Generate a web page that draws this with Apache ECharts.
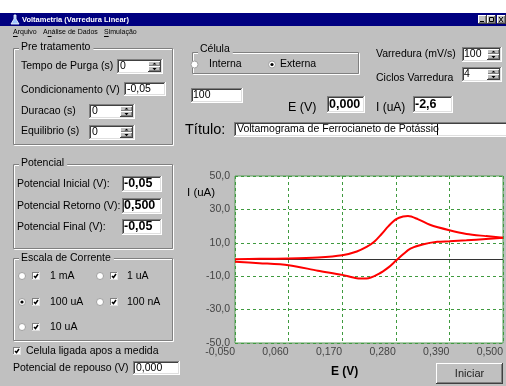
<!DOCTYPE html>
<html><head><meta charset="utf-8">
<script src="https://cdn.jsdelivr.net/npm/echarts@6/dist/echarts.min.js"></script>
<style>html,body{margin:0;padding:0;background:#c0c0c0;}#c{width:506px;height:386px;}</style>
</head><body><div id="c"></div>
<script>
// ---- data ----
const forwardE = [-0.05, 0.0, 0.06, 0.12, 0.17, 0.20, 0.22, 0.235, 0.25, 0.265, 0.28, 0.295, 0.305, 0.325, 0.35, 0.39, 0.425, 0.465, 0.50];
const forwardI = [0.2, 0.4, 0.6, 1.2, 2.5, 4.8, 7.5, 10.5, 15.0, 20.0, 24.0, 25.8, 26.0, 24.2, 20.8, 17.5, 15.3, 14.0, 13.0];
const reverseE = [0.50, 0.465, 0.425, 0.39, 0.365, 0.335, 0.31, 0.295, 0.28, 0.265, 0.245, 0.22, 0.20, 0.17, 0.12, 0.06, 0.0, -0.05];
const reverseI = [13.0, 12.3, 11.5, 10.9, 10.6, 9.0, 6.5, 3.1, -0.8, -4.7, -8.6, -11.4, -11.2, -9.2, -6.7, -3.4, -2.2, -1.4];
const xTicks = [-0.05, 0.06, 0.17, 0.28, 0.39, 0.50];
const yTicks = [-50, -30, -10, 10, 30, 50];

const FONT = '"Liberation Sans", Arial, sans-serif';
const mctx = document.createElement('canvas').getContext('2d');
function tw(s, fs, b) { mctx.font = (b?'bold ':'') + fs + 'px ' + FONT; return mctx.measureText(s).width; }
const G = [];
function T(x, y, s, o) {
  o = o || {};
  G.push({type:'text', z:o.z||10, style:{text:s, x:x, y:y,
    font:(o.b?'bold ':'') + (o.fs||10.5) + 'px ' + FONT,
    fill:o.c||'#000', textAlign:o.al||'left', align:o.al||'left',
    textVerticalAlign:'middle', verticalAlign:'middle'}});
}
function R(x, y, w, h, fill, stroke, z) {
  G.push({type:'rect', z:z||1, shape:{x:x, y:y, width:w, height:h},
    style:{fill:fill||'none', stroke:stroke||null, lineWidth:1}});
}
function L(x1, y1, x2, y2, c, z) {
  G.push({type:'line', z:z||2, shape:{x1:x1, y1:y1, x2:x2, y2:y2}, style:{stroke:c, lineWidth:1}});
}
function sunken(x, y, w, h) {
  R(x, y, w, h, '#fff');
  L(x, y+0.5, x+w, y+0.5, '#808080'); L(x+0.5, y, x+0.5, y+h, '#808080');
  L(x+1, y+1.5, x+w-1, y+1.5, '#404040'); L(x+1.5, y+1, x+1.5, y+h-1, '#404040');
  L(x, y+h-0.5, x+w, y+h-0.5, '#ffffff'); L(x+w-0.5, y, x+w-0.5, y+h, '#ffffff');
  L(x+1, y+h-1.5, x+w-1, y+h-1.5, '#dfdfdf'); L(x+w-1.5, y+1, x+w-1.5, y+h-1, '#dfdfdf');
}
function raised(x, y, w, h, z) {
  R(x, y, w, h, '#c0c0c0', null, z||3);
  L(x, y+0.5, x+w, y+0.5, '#ffffff', (z||3)+1); L(x+0.5, y, x+0.5, y+h, '#ffffff', (z||3)+1);
  L(x, y+h-0.5, x+w, y+h-0.5, '#404040', (z||3)+1); L(x+w-0.5, y, x+w-0.5, y+h, '#404040', (z||3)+1);
  L(x+1, y+h-1.5, x+w-1, y+h-1.5, '#808080', (z||3)+1); L(x+w-1.5, y+1, x+w-1.5, y+h-1, '#808080', (z||3)+1);
}
function spinner(x, y, w, h) {
  const hh = Math.floor(h/2);
  raised(x, y, w, hh+1, 5); raised(x, y+hh, w, h-hh, 5);
  const cx = x + w/2;
  G.push({type:'polygon', z:8, shape:{points:[[cx-2, y+hh-1.5],[cx+2, y+hh-1.5],[cx, y+1.8]]}, style:{fill:'#000'}});
  G.push({type:'polygon', z:8, shape:{points:[[cx-2, y+hh+2],[cx+2, y+hh+2],[cx, y+h-1.8]]}, style:{fill:'#000'}});
}
function frame(x, y, w, h, label, lx, ly) {
  R(x+1.5, y+1.5, w, h, 'none', '#ffffff', 1);
  R(x+0.5, y+0.5, w, h, 'none', '#808080', 2);
  if (label) {
    const w2 = tw(label, 10.5);
    R(lx-2, ly-6, w2+5, 12, '#c0c0c0', null, 3);
    T(lx, ly, label);
  }
}
function radio(cx, cy, sel) {
  G.push({type:'circle', z:4, shape:{cx:cx, cy:cy, r:3.5}, style:{fill:'#fff', stroke:'#a0a0a0', lineWidth:1}});
  if (sel) G.push({type:'circle', z:5, shape:{cx:cx, cy:cy, r:1.6}, style:{fill:'#000'}});
}
function check(x, y, s) {
  R(x, y, s, s, '#fff', null, 4);
  L(x, y+0.5, x+s, y+0.5, '#808080', 5); L(x+0.5, y, x+0.5, y+s, '#808080', 5);
  L(x, y+s-0.5, x+s, y+s-0.5, '#e0e0e0', 5); L(x+s-0.5, y, x+s-0.5, y+s, '#e0e0e0', 5);
  G.push({type:'polyline', z:6, shape:{points:[[x+2, y+s/2], [x+s/2-0.5, y+s-2.5], [x+s-2, y+2]]}, style:{stroke:'#000', lineWidth:1.5, fill:null}});
}
function inputText(x, y, s, o) { T(x, y, s, Object.assign({z:12}, o||{})); }
function menu(x, s, ui) {
  T(x, 32.5, s, {fs:7});
  const a = tw(s.slice(0, ui), 7), b = tw(s.slice(0, ui+1), 7);
  L(x+a, 36.5, x+b, 36.5, '#000', 11);
}

// ---- window chrome ----
R(0, 0, 506, 13, '#ffffff', null, 0);
R(0, 13, 506, 13, '#000080', null, 1);
G.push({type:'polygon', z:3, shape:{points:[[14,15],[16,15],[16,19],[19,24],[11,24],[14,19]]}, style:{fill:'#9ec5ff', stroke:'#ffffff', lineWidth:0.8}});
T(22, 19.5, 'Voltametria (Varredura Linear)', {b:1, fs:7.5, c:'#fff'});
raised(478, 15, 9, 9, 4); raised(487, 15, 9, 9, 4); raised(497, 15, 9, 9, 4);
L(480, 21.5, 484, 21.5, '#000', 9);
R(489.5, 17.5, 4, 4, 'none', '#000', 9);
L(499, 17, 503, 22, '#000', 9); L(503, 17, 499, 22, '#000', 9);
menu(13, 'Arquivo', 0);
menu(43, 'Análise de Dados', 1);
menu(104, 'Simulação', 0);

// ---- Pre tratamento ----
frame(13, 48, 159, 96, 'Pre tratamento', 21, 47.5);
T(21, 66, 'Tempo de Purga (s)');
sunken(117, 59, 46, 15); inputText(120, 66, '0'); spinner(148, 61, 13, 11);
T(21, 90, 'Condicionamento (V)');
sunken(124, 82, 42, 14); inputText(127, 89, '-0,05');
T(21, 111, 'Duracao (s)');
sunken(89, 104, 46, 15); inputText(92, 111, '0'); spinner(120, 106, 13, 11);
T(21, 131, 'Equilibrio (s)');
sunken(89, 125, 46, 15); inputText(92, 132, '0'); spinner(120, 127, 13, 11);

// ---- Potencial ----
frame(13, 164, 159, 84, 'Potencial', 21, 163);
T(17, 184, 'Potencial Inicial (V):');
sunken(122, 176, 40, 16); inputText(124, 184, '-0,05', {b:1, fs:12.5});
T(17, 206, 'Potencial Retorno (V):');
sunken(122, 198, 40, 16); inputText(124, 206, '0,500', {b:1, fs:12.5});
T(17, 227, 'Potencial Final (V):');
sunken(122, 219, 40, 16); inputText(124, 227, '-0,05', {b:1, fs:12.5});

// ---- Escala de Corrente ----
frame(13, 258, 159, 82, 'Escala de Corrente', 21, 258);
const rows = [[276, '1 mA', '1 uA', false, false], [302, '100 uA', '100 nA', true, false], [327, '10 uA', null, false, false]];
rows.forEach(function (r) {
  radio(22, r[0], r[3]); check(32, r[0]-4, 8); T(50, r[0], r[1]);
  if (r[2]) { radio(100, r[0], r[4]); check(110, r[0]-4, 8); T(127, r[0], r[2]); }
});
check(13, 347, 8); T(26, 351, 'Celula ligada apos a medida');
T(13, 368, 'Potencial de repouso (V)');
sunken(133, 361, 47, 14); inputText(136, 368, '0,000');

// ---- right panel ----
frame(192, 52, 166, 21, 'Célula', 200, 49);
radio(194.5, 64.5, false); T(209, 64.5, 'Interna');
radio(272, 64.5, true); T(280, 64.5, 'Externa');
T(376, 54, 'Varredura (mV/s)');
sunken(462, 47, 40, 15); inputText(464, 54.5, '100'); spinner(487, 49, 13, 11);
T(376, 78, 'Ciclos Varredura');
sunken(462, 67, 40, 15); inputText(464, 74.5, '4'); spinner(487, 69, 13, 11);
sunken(191, 88, 52, 15); inputText(193, 95, '100');
T(288, 108, 'E (V)', {fs:12.5});
sunken(327, 96, 38, 17); inputText(329, 104.5, '0,000', {b:1, fs:12.5});
T(376, 108, 'I (uA)', {fs:12});
sunken(413, 96, 40, 17); inputText(415, 104.5, '-2,6', {b:1, fs:12.5});
T(185, 130, 'Título:', {fs:14.5});
sunken(234, 122, 276, 15); inputText(237, 129.5, 'Voltamograma de Ferrocianeto de Potássio');
L(437.5, 124, 437.5, 135, '#000', 13);
T(187, 193, 'I (uA)', {fs:11.5});
T(331, 372, 'E (V)', {fs:12, b:1});
raised(436, 363, 67, 21, 3);
T(469.5, 374, 'Iniciar', {fs:11, al:'center', c:'#222'});

function fmt(v, d) { return v.toFixed(d).replace('.', ','); }

const chart = echarts.init(document.getElementById('c'), null, {renderer:'canvas'});
chart.setOption({
  animation:false,
  backgroundColor:'#c0c0c0',
  graphic:G,
  grid:{left:235, top:176, width:272, height:167, show:true, backgroundColor:'#ffffff', borderColor:'#5a9e5a', borderWidth:1, containLabel:false},
  xAxis:{type:'value', min:xTicks[0], max:xTicks[xTicks.length-1], interval:0.11,
    axisLine:{show:false}, axisTick:{show:false},
    splitLine:{show:true, lineStyle:{color:'#3f9a3f', type:[3,3], width:1}},
    axisLabel:{color:'#444', fontSize:10.5, fontFamily:'Liberation Sans', align:'right', margin:4,
      customValues:xTicks, formatter:function(v){ return fmt(v, 3); }}},
  yAxis:{type:'value', min:yTicks[0], max:yTicks[yTicks.length-1], interval:20,
    axisLine:{show:false}, axisTick:{show:false},
    splitLine:{show:true, lineStyle:{color:'#3f9a3f', type:[3,3], width:1}},
    axisLabel:{color:'#444', fontSize:10.5, fontFamily:'Liberation Sans', margin:5,
      customValues:yTicks, formatter:function(v){ return fmt(v, 1); }}},
  series:[
    {type:'line', name:'ida', data:forwardE.map(function(e,i){return [e, forwardI[i]];}), smooth:0.3, showSymbol:false,
      lineStyle:{color:'#ff0000', width:2}, z:5,
      markLine:{silent:true, symbol:'none', label:{show:false}, lineStyle:{color:'#333', type:'solid', width:1}, data:[{yAxis:0}], z:3}},
    {type:'line', name:'volta', data:reverseE.map(function(e,i){return [e, reverseI[i]];}), smooth:0.3, showSymbol:false,
      lineStyle:{color:'#ff0000', width:2}, z:5}
  ]
});
</script></body></html>
